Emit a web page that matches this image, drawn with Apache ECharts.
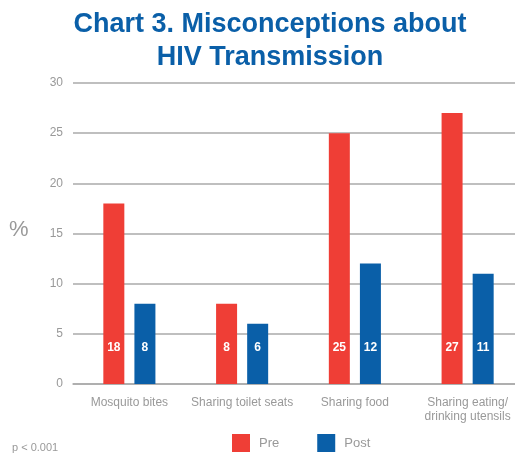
<!DOCTYPE html>
<html>
<head>
<meta charset="utf-8">
<script src="https://cdn.jsdelivr.net/npm/echarts@6/dist/echarts.min.js"></script>
<style>
	html, body { margin: 0; padding: 0; background: #fff; }
	#chart { width: 515px; height: 453px; }
</style>
</head>
<body>
<div id="chart"></div>
<script>
	// 数据
	var categories = ['Mosquito bites', 'Sharing toilet seats', 'Sharing food', 'Sharing eating/\ndrinking utensils'];
	var preValues = [18, 8, 25, 27];
	var postValues = [8, 6, 12, 11];
	var yTicks = [0, 5, 10, 15, 20, 25, 30];

	var grey = '#999999';
	var red = '#ef3e36';
	var blue = '#0a5fa8';

	var myChart = echarts.init(document.getElementById('chart'));

	// 柱内数值标签
	var barLabel = {
		show: true,
		position: 'insideBottom',
		distance: 30,
		color: '#fff',
		fontWeight: 'bold',
		fontSize: 12,
		fontFamily: 'Liberation Sans, Arial, sans-serif'
	};

	myChart.setOption({
		animation: false,
		textStyle: { fontFamily: 'Liberation Sans, Arial, sans-serif' },
		title: [{
			text: 'Chart 3. Misconceptions about\nHIV Transmission',
			left: 270,
			top: 8,
			padding: 0,
			textAlign: 'center',
			textStyle: {
				color: blue,
				fontSize: 27,
				fontWeight: 'bold',
				lineHeight: 33,
				fontFamily: 'Liberation Sans, Arial, sans-serif'
			}
		}, {
			text: '%',
			left: 9,
			top: 219,
			padding: 0,
			textStyle: { color: grey, fontSize: 22, fontWeight: 'normal' }
		}, {
			text: 'p < 0.001',
			left: 12,
			top: 442,
			padding: 0,
			textStyle: { color: grey, fontSize: 11, fontWeight: 'normal' }
		}],
		legend: {
			data: ['Pre', 'Post'],
			left: 232,
			top: 434,
			padding: 0,
			itemWidth: 18,
			itemHeight: 18,
			itemGap: 38,
			icon: 'rect',
			textStyle: { color: grey, fontSize: 13, padding: [0, 0, 0, 4] }
		},
		grid: {
			left: 73,
			top: 83,
			width: 451,
			height: 301,
			outerBoundsMode: 'none',
			containLabel: false
		},
		xAxis: {
			type: 'category',
			data: categories,
			axisLine: { lineStyle: { color: '#aaaaaa', width: 1.5 } },
			axisTick: { show: false },
			axisLabel: { color: grey, fontSize: 12, margin: 12, lineHeight: 14, interval: 0 }
		},
		yAxis: {
			type: 'value',
			min: yTicks[0],
			max: yTicks[yTicks.length - 1],
			interval: 5,
			axisLine: { show: false },
			axisTick: { show: false },
			axisLabel: { color: grey, fontSize: 12, margin: 10 },
			splitLine: { lineStyle: { color: '#aaaaaa', width: 1.5 } }
		},
		series: [{
			name: 'Pre',
			type: 'bar',
			data: preValues,
			barWidth: 21,
			barGap: '48%',
			itemStyle: { color: red },
			label: barLabel
		}, {
			name: 'Post',
			type: 'bar',
			data: postValues,
			barWidth: 21,
			itemStyle: { color: blue },
			label: barLabel
		}]
	});
</script>
</body>
</html>
